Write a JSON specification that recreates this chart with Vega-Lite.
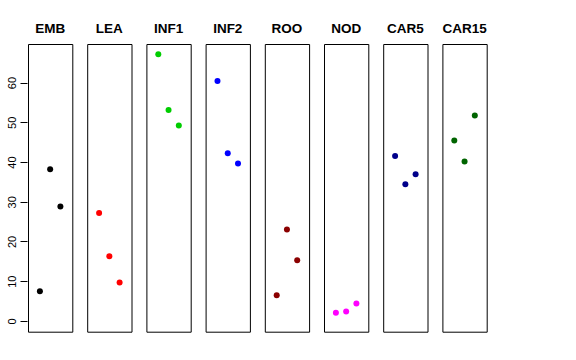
{
  "$schema": "https://vega.github.io/schema/vega-lite/v6.json",
  "padding": {"left": 5, "top": 21, "right": 5, "bottom": 5},
  "background": "white",
  "data": {"values": [
    {"tissue": "EMB", "pos": 1, "value": 7.5},
    {"tissue": "EMB", "pos": 2, "value": 38.2},
    {"tissue": "EMB", "pos": 3, "value": 28.8},
    {"tissue": "LEA", "pos": 1, "value": 27.2},
    {"tissue": "LEA", "pos": 2, "value": 16.3},
    {"tissue": "LEA", "pos": 3, "value": 9.7},
    {"tissue": "INF1", "pos": 1, "value": 67.1},
    {"tissue": "INF1", "pos": 2, "value": 53.1},
    {"tissue": "INF1", "pos": 3, "value": 49.2},
    {"tissue": "INF2", "pos": 1, "value": 60.4},
    {"tissue": "INF2", "pos": 2, "value": 42.2},
    {"tissue": "INF2", "pos": 3, "value": 39.6},
    {"tissue": "ROO", "pos": 1, "value": 6.5},
    {"tissue": "ROO", "pos": 2, "value": 23.0},
    {"tissue": "ROO", "pos": 3, "value": 15.3},
    {"tissue": "NOD", "pos": 1, "value": 2.1},
    {"tissue": "NOD", "pos": 2, "value": 2.4},
    {"tissue": "NOD", "pos": 3, "value": 4.4},
    {"tissue": "CAR5", "pos": 1, "value": 41.5},
    {"tissue": "CAR5", "pos": 2, "value": 34.4},
    {"tissue": "CAR5", "pos": 3, "value": 36.9},
    {"tissue": "CAR15", "pos": 1, "value": 45.4},
    {"tissue": "CAR15", "pos": 2, "value": 40.1},
    {"tissue": "CAR15", "pos": 3, "value": 51.7}
  ]},
  "facet": {
    "column": {
      "field": "tissue",
      "type": "nominal",
      "sort": ["EMB", "LEA", "INF1", "INF2", "ROO", "NOD", "CAR5", "CAR15"],
      "title": null,
      "header": {
        "labelFont": "Liberation Sans",
        "labelFontSize": 13.5,
        "labelFontWeight": "bold",
        "labelColor": "black",
        "labelPadding": 8
      }
    }
  },
  "spacing": 13.2,
  "spec": {
    "width": 44.3,
    "height": 287.7,
    "mark": {"type": "circle", "size": 36, "opacity": 1},
    "encoding": {
      "x": {
        "field": "pos",
        "type": "quantitative",
        "scale": {"domain": [-0.16, 4.16], "nice": false, "zero": false},
        "axis": null
      },
      "y": {
        "field": "value",
        "type": "quantitative",
        "scale": {"domain": [-2.7, 69.7], "nice": false, "zero": false},
        "axis": {
          "title": null,
          "values": [0, 10, 20, 30, 40, 50, 60],
          "grid": false,
          "domain": false,
          "tickSize": 7,
          "tickColor": "black",
          "labelAngle": 270,
          "labelAlign": "center",
          "labelBaseline": "bottom",
          "labelPadding": 3,
          "labelFont": "Liberation Sans",
          "labelFontSize": 11,
          "labelColor": "black"
        }
      },
      "color": {
        "field": "tissue",
        "type": "nominal",
        "scale": {
          "domain": ["EMB", "LEA", "INF1", "INF2", "ROO", "NOD", "CAR5", "CAR15"],
          "range": ["#000000", "#FF0000", "#00CD00", "#0000FF", "#8B0000", "#FF00FF", "#00008B", "#006400"]
        },
        "legend": null
      }
    }
  },
  "config": {
    "view": {"stroke": "black", "strokeWidth": 1}
  }
}
